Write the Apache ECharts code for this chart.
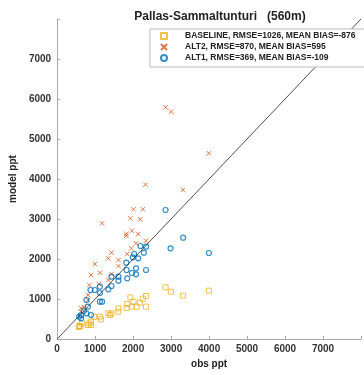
<!DOCTYPE html>
<html>
<head>
<meta charset="utf-8">
<script src="https://cdn.jsdelivr.net/npm/echarts@6/dist/echarts.min.js"></script>
<style>html,body{margin:0;padding:0;background:#fff}#c{width:364px;height:375px}</style>
</head>
<body>
<div id="c"></div>
<script>
const titleText = 'Pallas-Sammaltunturi   (560m)';
const seriesNames = ['BASELINE, RMSE=1026, MEAN BIAS=-876', 'ALT2, RMSE=870, MEAN BIAS=595', 'ALT1, RMSE=369, MEAN BIAS=-109'];
const axisTicks = [0, 1000, 2000, 3000, 4000, 5000, 6000, 7000];

const baselineObs   = [3995,2854,2995,3317,2341,2341,2258,2175,2092,2010,1928,1968,1845,1828,1613,1613,1431,1348,1390,1125,1158,976,893,850,893,650,610,590,570,810];
const baselineModel = [1208,1292,1183,1083,1075,808,1008,908,808,933,1042,808,875,775,767,683,642,642,600,558,492,558,433,392,350,392,325,325,300,350];

const alt2Obs   = [2325,3308,2854,3002,3995,1183,2010,2258,1928,2191,1820,1820,1968,2134,2340,2077,1952,1431,1348,1613,1613,1845,993,1125,893,1431,1348,1100,810,810,850,630,630,700];
const alt2Model = [3858,3725,5792,5683,4642,2892,3242,3242,3017,2992,2630,2580,2708,2625,2458,2392,2267,2158,2017,1975,1825,2125,1875,1658,1600,1625,1475,1375,1100,975,1350,767,683,800];

const alt1Obs   = [2854,3317,2986,3995,2341,2191,2283,2027,2134,1993,1820,1828,2077,1968,2077,2340,1845,1613,1613,1431,1431,1348,1125,993,877,1125,1125,1183,770,810,770,893,630,630,580,700];
const alt1Model = [3225,2533,2267,2150,2308,2325,2158,2125,2017,2042,1908,1725,1767,1650,1617,1725,1517,1558,1458,1558,1325,1242,1308,1225,1225,1150,933,933,975,808,642,600,600,517,558,700];

const oneToOne = [0, 8000];

function pairs(xs, ys) { return xs.map((x, i) => [x, ys[i]]); }

const font = 'Liberation Sans, Arial, sans-serif';
const chart = echarts.init(document.getElementById('c'));
chart.setOption({
  animation: false,
  title: {
    text: titleText, left: 215, top: 6, textAlign: 'center',
    textStyle: { fontFamily: font, fontSize: 12, fontWeight: 'bold', color: '#222' }
  },
  legend: {
    orient: 'vertical', left: 150, top: 29,
    data: seriesNames,
    backgroundColor: '#fff', borderColor: '#bbb', borderWidth: 1,
    padding: [2, 20, 4, 10], itemGap: 1, itemWidth: 6, itemHeight: 6,
    textStyle: { fontFamily: font, fontSize: 8.5, fontWeight: 'bold', color: '#222', padding: [0, 0, 0, 13], lineHeight: 10 }
  },
  grid: { left: 54, right: -12, top: 19, bottom: 36 },
  xAxis: {
    type: 'value', min: 0, max: 8000, interval: 1000,
    name: 'obs ppt', nameLocation: 'middle', nameGap: 19,
    nameTextStyle: { fontFamily: font, fontSize: 10, fontWeight: 'bold', color: '#222' },
    axisLine: { lineStyle: { color: '#aaa' } },
    axisTick: { inside: true, length: 3, lineStyle: { color: '#aaa' } },
    axisLabel: { fontFamily: font, fontSize: 10, fontWeight: 'bold', color: '#333', margin: 5,
      formatter: v => axisTicks.includes(v) ? String(v) : '' },
    splitLine: { show: false }
  },
  yAxis: {
    type: 'value', min: 0, max: 8000, interval: 1000,
    name: 'model ppt', nameLocation: 'middle', nameGap: 33,
    nameTextStyle: { fontFamily: font, fontSize: 10, fontWeight: 'bold', color: '#222' },
    axisLine: { show: true, lineStyle: { color: '#aaa' } },
    axisTick: { show: true, inside: true, length: 3, lineStyle: { color: '#aaa' } },
    axisLabel: { fontFamily: font, fontSize: 10, fontWeight: 'bold', color: '#333', margin: 6,
      formatter: v => axisTicks.includes(v) ? String(v) : '' },
    splitLine: { show: false }
  },
  series: [
    {
      name: seriesNames[0], type: 'scatter', data: pairs(baselineObs, baselineModel),
      symbol: 'rect', symbolSize: 5,
      itemStyle: { color: 'rgba(255,255,255,0)', borderColor: '#EDB120', borderWidth: 1 }
    },
    {
      name: seriesNames[1], type: 'scatter', data: pairs(alt2Obs, alt2Model),
      symbol: 'path://M0,0L10,10M10,0L0,10', symbolSize: 4.5,
      itemStyle: { color: 'rgba(255,255,255,0)', borderColor: '#D95319', borderWidth: 1 }
    },
    {
      name: seriesNames[2], type: 'scatter', data: pairs(alt1Obs, alt1Model),
      symbol: 'circle', symbolSize: 5,
      itemStyle: { color: 'rgba(255,255,255,0)', borderColor: '#0072BD', borderWidth: 1.2 }
    },
    {
      name: '1:1', type: 'line', data: pairs(oneToOne, oneToOne),
      symbol: 'none', silent: true,
      lineStyle: { color: '#222', width: 0.8 }
    }
  ]
});
</script>
</body>
</html>
